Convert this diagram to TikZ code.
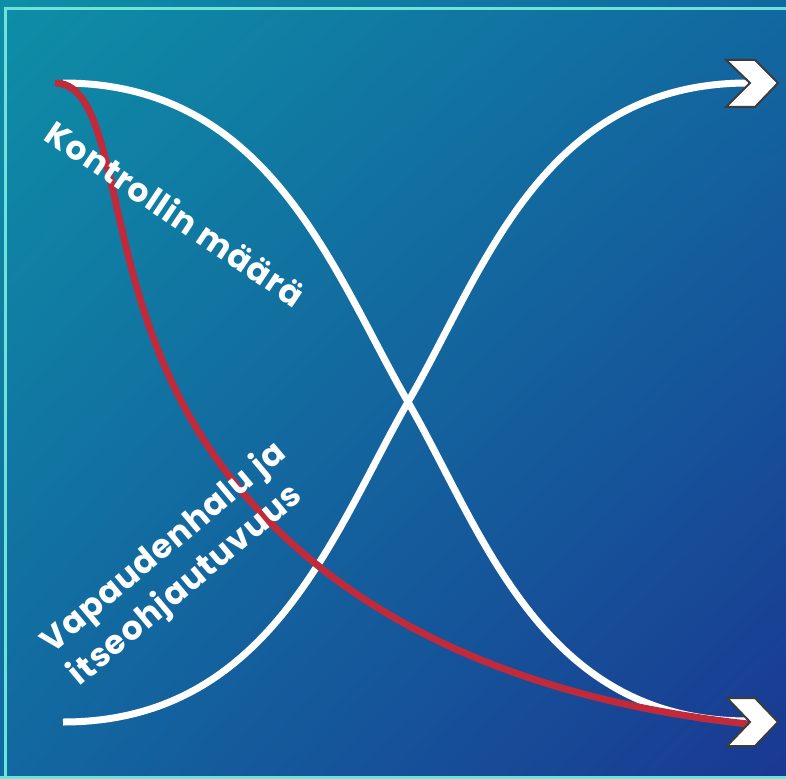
\documentclass[tikz,border=0pt]{standalone}
\usepackage{fontspec}
\setmainfont{Poppins}
\newfontfamily\lblfont{Poppins}[LetterSpace=3]
\usetikzlibrary{shadings}
\begin{document}
\begin{tikzpicture}[x=1pt,y=-1pt,
  wcurve/.style={draw=white,line width=7pt},
  rcurve/.style={draw=redline,line width=7pt},
  chevron/.style={fill=white,draw=chevgray,line width=2pt,line join=miter},
  lbl/.style={text=white,font=\lblfont\fontsize{33}{43}\selectfont\bfseries,inner sep=0pt}]
\definecolor{bgA}{RGB}{14,142,166}
\definecolor{bgB}{RGB}{18,104,160}
\definecolor{bgC}{RGB}{26,56,146}
\definecolor{redline}{RGB}{192,42,58}
\definecolor{chevgray}{RGB}{60,60,62}
\definecolor{bordercyan}{RGB}{110,228,216}
\useasboundingbox (0,0) rectangle (786,778);
\shade[upper left=bgA,upper right=bgB,lower left=bgB,lower right=bgC] (0,0) rectangle (786,778);
\draw[bordercyan,line width=3pt] (5.5,800) -- (5.5,8.5) -- (800,8.5);
\draw[bordercyan,line width=3pt] (0,777.5) -- (800,777.5);
% coordinates
\coordinate (kstart) at (63,83);
\coordinate (cross) at (408,402);
\coordinate (kend) at (748,721);
\coordinate (vstart) at (63,722);
\coordinate (vend) at (748,83);
\coordinate (rstart) at (55,83);
\coordinate (rmid) at (158,350);
\coordinate (rend) at (748,724);
% curves
\path[wcurve] (kstart) .. controls (270,83) and (333,272) .. (cross)
   .. controls (483,532) and (541,721) .. (kend);
\path[wcurve] (vstart) .. controls (270,722) and (333,533) .. (cross)
   .. controls (483,273) and (541,83) .. (vend);
\path[rcurve] (rstart) .. controls (110,83) and (106,220) .. (rmid)
   .. controls (187.6,424.4) and (298,675) .. (rend);
% chevrons
\filldraw[chevron] (726,60) -- (755,60) -- (778,83) -- (755,107) -- (726,107) -- (750,83) -- cycle;
\filldraw[chevron] (727,698) -- (755,698) -- (778,722) -- (755,746) -- (727,746) -- (750,722) -- cycle;
% labels
\node[lbl,rotate=-34] (klabel) at (176,213) {Kontrollin määrä};
\node[lbl,rotate=40,align=left] (vlabel) at (178,565) {Vapaudenhalu ja\\itseohjautuvuus};
\end{tikzpicture}
\end{document}
